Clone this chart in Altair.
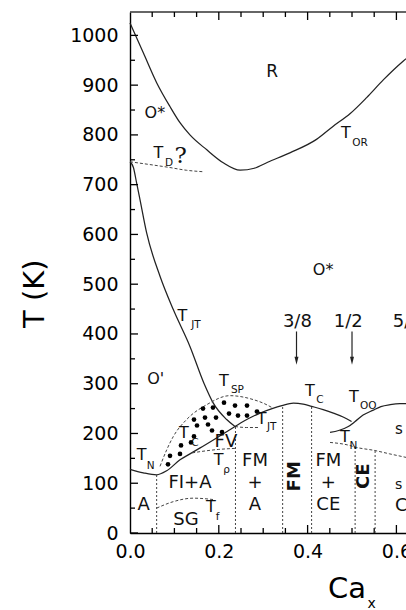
import altair as alt
import pandas as pd

# ---------------- plot geometry ----------------
W, H = 276, 521            # plot area in px
X_MAX, T_MAX = 0.6216, 1047
PX_X = W / X_MAX           # px per unit of x
PX_T = H / T_MAX           # px per kelvin
FONT = "DejaVu Sans"

# ---------------- phase boundaries (x = Ca fraction, T in K) ----------------
tor_x = [0.0, 0.03, 0.06, 0.09, 0.113, 0.135, 0.173, 0.21, 0.248, 0.28, 0.31,
         0.36, 0.42, 0.457, 0.496, 0.533, 0.571, 0.615, 0.6216]
tor_t = [1025, 965, 905, 857, 824, 800, 770, 744, 729, 733, 745,
         764, 791, 817, 843, 875, 911, 948, 953]

td_x = [0.0, 0.04, 0.086, 0.127, 0.165]
td_t = [746, 741, 735, 729, 726]

tjt_x = [0.0, 0.0075, 0.015, 0.0225, 0.0375, 0.0676, 0.0975, 0.135, 0.167,
         0.1876, 0.2177, 0.2365]
tjt_t = [746, 735, 703, 670, 603, 516, 449, 375, 300, 261, 228, 214]

tjt2_x = [0.2365, 0.262, 0.29]
tjt2_t = [214, 212, 212]

tc_x = [0.0, 0.03, 0.06, 0.0826, 0.1126, 0.135, 0.158, 0.195, 0.2365, 0.265,
        0.293, 0.32, 0.342, 0.368, 0.39, 0.409, 0.435, 0.458, 0.48, 0.499]
tc_t = [128, 121, 117, 125, 147, 159, 171, 191, 214, 229,
        241, 250, 256, 261, 259, 254.5, 248, 241, 233, 224]

too_x = [0.4505, 0.47, 0.4917, 0.507, 0.525, 0.548, 0.565, 0.586, 0.608, 0.6216]
too_t = [202, 206, 214, 224, 237, 247, 254, 258, 260, 260]

tnr_x = [0.4505, 0.49, 0.51, 0.55, 0.585, 0.6216]
tnr_t = [182, 177, 172, 166, 159, 152]

tsp_x = [0.0676, 0.0826, 0.0976, 0.1275, 0.173, 0.225, 0.278, 0.30, 0.322]
tsp_t = [134, 167, 194, 228, 258, 276, 268, 261, 251]

trho_x = [0.14, 0.17, 0.2, 0.2365]
trho_t = [161, 165, 168, 170]

sg_x = [0.06, 0.0976, 0.1426, 0.19]
sg_t = [50, 63, 70, 67]

# vertical phase separators
vert_x = [0.06, 0.2375, 0.3438, 0.409, 0.507, 0.552]
vert_top = [117, 214, 256, 254.5, 173, 166]

# ferromagnetic-insulator / vortex region (dots)
dot_x = [0.2117, 0.2365, 0.2635, 0.1644, 0.1869, 0.223, 0.2432, 0.2635, 0.286,
         0.1441, 0.1689, 0.1937, 0.1509, 0.1757, 0.1847, 0.2072, 0.1441,
         0.1149, 0.1374, 0.0901, 0.1126, 0.0856]
dot_t = [262, 256, 256, 250, 252, 240, 236, 236, 244,
         228, 232, 232, 216, 218, 206, 203, 194,
         176, 182, 155, 159, 138]

# commensurate fillings
arrow_x = [0.375, 0.5]
arrow_top = [405, 405]
arrow_tip = [346, 346]

# ---------------- labels ----------------
region_text = ["R", "O*", "O*", "O'", "FV", "FI+A", "FM", "+", "A",
               "FM", "+", "CE", "A", "SG", "3/8", "1/2", "5/8"]
region_x = [0.320, 0.056, 0.435, 0.058, 0.216, 0.135, 0.2815, 0.2815, 0.2815,
            0.4467, 0.4467, 0.4467, 0.031, 0.126, 0.377, 0.4917, 0.6245]
region_t = [927, 845, 529, 310, 182, 100, 144, 100, 57,
            144, 100, 57, 57, 27, 425, 425, 425]
region_size = [17, 16, 16, 16, 18, 18, 18, 18, 18,
               18, 18, 18, 18, 18, 18, 18, 18]

vert_text = ["FM", "CE"]
vert_text_x = [0.3716, 0.5274]
vert_text_t = [114, 114]

tmain_x = [0.486, 0.064, 0.118, 0.2117, 0.405, 0.5045, 0.1216, 0.2966,
           0.0263, 0.1997, 0.182, 0.4842]
tmain_t = [803, 764, 437, 305, 286, 273, 201, 229, 156, 146, 52, 193]
sub_text = ["OR", "D", "JT", "SP", "C", "OO", "C", "JT", "N", "ρ", "f", "N"]
sub_x = [0.518, 0.088, 0.1486, 0.242, 0.428, 0.5368, 0.1464, 0.319,
         0.0466, 0.2177, 0.197, 0.503]
sub_t = [784, 744, 418, 288, 268, 254.5, 180, 213, 135, 127, 33, 174]

edge_text = ["s", "s", "C"]
edge_x = [0.597, 0.597, 0.597]
edge_t = [210, 96, 55]
edge_size = [15, 14, 18]

x_ticks = [0.0, 0.2, 0.4, 0.6]
y_ticks = list(range(0, 1001, 100))

# ---------------- scales and axes (shared by every layer) ----------------
xs = alt.Scale(domain=[0, X_MAX], nice=False, zero=False)
ys = alt.Scale(domain=[0, T_MAX], nice=False, zero=False)
x_axis = alt.Axis(values=x_ticks, format=".1f", title=None, grid=False,
                  ticks=False, tickSize=0, labelPadding=9, labelFont=FONT,
                  labelFontSize=19, labelColor="black", labelFlush=False,
                  labelOverlap=False, domain=True, domainColor="black",
                  domainWidth=1.4)
y_axis = alt.Axis(values=y_ticks, format="d", title=None, grid=False,
                  ticks=False, tickSize=0, labelPadding=12, labelFont=FONT,
                  labelFontSize=19, labelColor="black", labelFlush=False,
                  labelOverlap=False, domain=True, domainColor="black",
                  domainWidth=1.4)


def X(field):
    return alt.X(field, type="quantitative", scale=xs, axis=x_axis)


def Y(field):
    return alt.Y(field, type="quantitative", scale=ys, axis=y_axis)


def curve(x, t, dashed=False):
    df = pd.DataFrame({"x": x, "T": t})
    kw = dict(interpolate="monotone", color="#222" if not dashed else "#444",
              strokeWidth=1.25 if not dashed else 1.0)
    if dashed:
        kw["strokeDash"] = [3, 2]
    return alt.Chart(df).mark_line(**kw).encode(x=X("x"), y=Y("T"))


layers = [
    curve(tor_x, tor_t),
    curve(td_x, td_t, dashed=True),
    curve(tjt_x, tjt_t),
    curve(tjt2_x, tjt2_t, dashed=True),
    curve(tc_x, tc_t),
    curve(too_x, too_t),
    curve(tnr_x, tnr_t, dashed=True),
    curve(tsp_x, tsp_t, dashed=True),
    curve(trho_x, trho_t, dashed=True),
    curve(sg_x, sg_t, dashed=True),
]

# top frame
frame = pd.DataFrame({"x0": [0.0], "x1": [X_MAX], "T": [T_MAX]})
layers.append(alt.Chart(frame).mark_rule(color="#333", strokeWidth=1.4).encode(
    x=X("x0"), x2="x1", y=Y("T")))

# inward tick marks
yt_vals = list(range(0, 1001, 50))
ytk = pd.DataFrame({"T": yt_vals, "x0": 0.0,
                    "x1": [(8 if v % 100 == 0 else 5) / PX_X for v in yt_vals]})
layers.append(alt.Chart(ytk).mark_rule(color="black", strokeWidth=1.3).encode(
    x=X("x0"), x2="x1", y=Y("T")))

xt_vals = [round(0.05 * i, 2) for i in range(1, 13)]
long_x = {0.2, 0.4, 0.6}
bot = pd.DataFrame({"x": xt_vals, "T0": 0.0,
                    "T1": [(8 if v in long_x else 5) / PX_T for v in xt_vals]})
top = pd.DataFrame({"x": xt_vals, "T0": float(T_MAX),
                    "T1": [T_MAX - (8 if v in long_x else 5) / PX_T for v in xt_vals]})
for d in (bot, top):
    layers.append(alt.Chart(d).mark_rule(color="black", strokeWidth=1.3).encode(
        x=X("x"), y=Y("T0"), y2="T1"))

# vertical dashed separators
vdf = pd.DataFrame({"x": vert_x, "T0": 0.0, "T1": vert_top})
layers.append(alt.Chart(vdf).mark_rule(color="#444", strokeWidth=1.0,
                                       strokeDash=[2, 2]).encode(
    x=X("x"), y=Y("T0"), y2="T1"))

# dots
ddf = pd.DataFrame({"x": dot_x, "T": dot_t})
layers.append(alt.Chart(ddf).mark_circle(color="black", size=22, opacity=1).encode(
    x=X("x"), y=Y("T")))

# arrows
adf = pd.DataFrame({"x": arrow_x, "T0": arrow_top, "T1": [v + 4 for v in arrow_tip],
                    "tip": arrow_tip})
layers.append(alt.Chart(adf).mark_rule(color="#222", strokeWidth=1.2).encode(
    x=X("x"), y=Y("T0"), y2="T1"))
layers.append(alt.Chart(adf).mark_point(shape="M-0.5,-1L0.5,-1L0,1Z", size=64,
                                        filled=True, color="#222", opacity=1).encode(
    x=X("x"), y=Y("tip")))

# region labels
rdf = pd.DataFrame({"x": region_x, "T": region_t, "text": region_text,
                    "size": region_size})
layers.append(alt.Chart(rdf).mark_text(font=FONT, color="#111", align="center",
                                       baseline="middle").encode(
    x=X("x"), y=Y("T"), text="text:N", size=alt.Size("size:Q", scale=None, legend=None)))

vdf2 = pd.DataFrame({"x": vert_text_x, "T": vert_text_t, "text": vert_text})
layers.append(alt.Chart(vdf2).mark_text(font=FONT, fontSize=18, fontWeight="bold",
                                        color="#111", angle=270, align="center",
                                        baseline="middle").encode(
    x=X("x"), y=Y("T"), text="text:N"))

# transition-temperature labels: T with subscript
tdf = pd.DataFrame({"x": tmain_x, "T": tmain_t, "text": ["T"] * len(tmain_x)})
layers.append(alt.Chart(tdf).mark_text(font=FONT, fontSize=16, color="#111",
                                       align="center", baseline="middle").encode(
    x=X("x"), y=Y("T"), text="text:N"))
sdf = pd.DataFrame({"x": sub_x, "T": sub_t, "text": sub_text})
layers.append(alt.Chart(sdf).mark_text(font=FONT, fontSize=10.5, color="#111",
                                       align="center", baseline="middle").encode(
    x=X("x"), y=Y("T"), text="text:N"))

qdf = pd.DataFrame({"x": [0.114], "T": [757], "text": ["?"]})
layers.append(alt.Chart(qdf).mark_text(font="DejaVu Serif", fontSize=23, color="#111",
                                       align="center", baseline="middle").encode(
    x=X("x"), y=Y("T"), text="text:N"))

edf = pd.DataFrame({"x": edge_x, "T": edge_t, "text": edge_text, "size": edge_size})
layers.append(alt.Chart(edf).mark_text(font=FONT, color="#111", align="left",
                                       baseline="middle").encode(
    x=X("x"), y=Y("T"), text="text:N", size=alt.Size("size:Q", scale=None, legend=None)))

# axis titles
ttl = pd.DataFrame({"x": [-0.214], "T": [481], "text": ["T (K)"]})
layers.append(alt.Chart(ttl).mark_text(font=FONT, fontSize=29, color="black", angle=270,
                                       align="center", baseline="middle").encode(
    x=X("x"), y=Y("T"), text="text:N"))
ca = pd.DataFrame({"x": [0.446], "T": [-130], "text": ["Ca"]})
layers.append(alt.Chart(ca).mark_text(font=FONT, fontSize=29, color="black",
                                      align="left", baseline="alphabetic").encode(
    x=X("x"), y=Y("T"), text="text:N"))
cx = pd.DataFrame({"x": [0.535], "T": [-150], "text": ["x"]})
layers.append(alt.Chart(cx).mark_text(font=FONT, fontSize=14, color="black",
                                      align="left", baseline="alphabetic").encode(
    x=X("x"), y=Y("T"), text="text:N"))

chart = alt.layer(*layers).properties(
    width=W, height=H,
    autosize=alt.AutoSizeParams(type="none"),
    padding={"left": 130, "top": 12, "right": 0, "bottom": 77},
).configure_view(stroke=None)

chart.save("out.html", embed_options={"renderer": "svg", "actions": False})
